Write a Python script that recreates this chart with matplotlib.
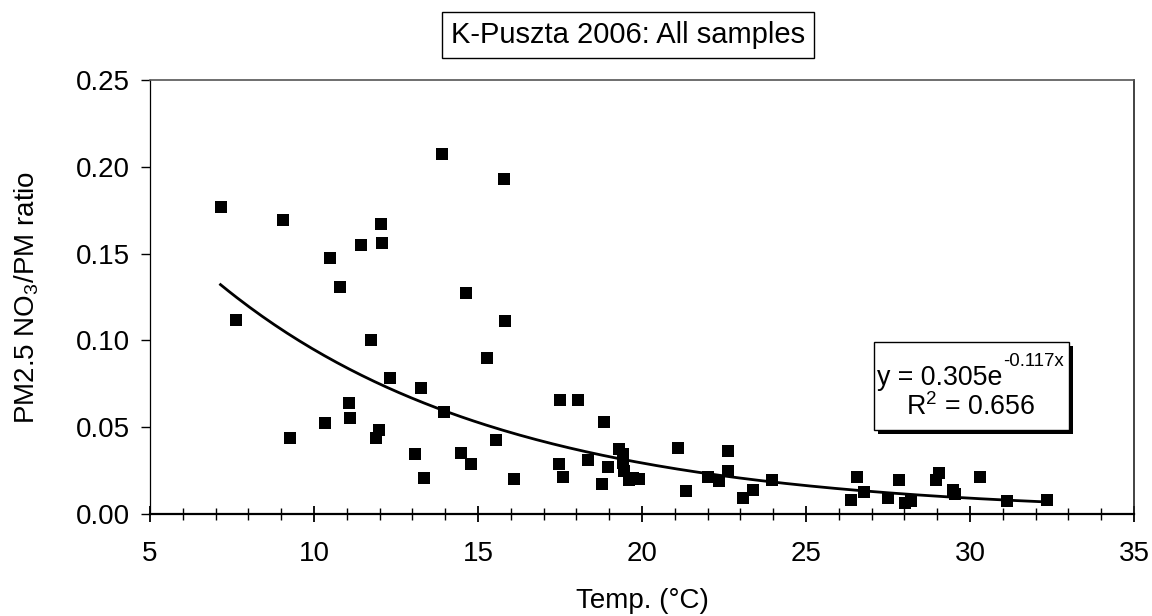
import numpy as np
import matplotlib
matplotlib.use("Agg")
import matplotlib.pyplot as plt
from matplotlib.patches import Rectangle
from matplotlib.ticker import MultipleLocator

plt.rcParams['font.family'] = ['Liberation Sans', 'DejaVu Sans']
plt.rcParams['mathtext.fontset'] = 'custom'
plt.rcParams['mathtext.rm'] = 'Liberation Sans'
plt.rcParams['mathtext.it'] = 'Liberation Sans'

# temperature (°C) and PM2.5 NO3/PM ratio
temp = [7.15, 7.63, 9.07, 9.28, 10.48, 10.80, 10.35, 11.06, 11.09, 11.42,
        11.74, 12.04, 12.08, 11.98, 11.90, 12.33, 13.07, 13.27, 13.35, 13.89,
        13.97, 14.49, 14.62, 14.78, 15.28, 15.55, 15.78, 15.81, 16.10, 17.49,
        18.04, 17.47, 17.58, 18.34, 18.85, 18.96, 18.78, 19.29, 19.41, 19.42,
        19.46, 19.61, 19.73, 19.92, 21.09, 21.35, 22.02, 22.36, 22.62, 22.61,
        23.07, 23.39, 23.97, 26.54, 26.37, 26.76, 27.49, 27.85, 28.03, 28.20,
        28.95, 29.05, 29.49, 29.53, 30.30, 31.12, 32.34]
ratio = [0.1768, 0.1116, 0.1695, 0.0436, 0.1473, 0.1309, 0.0524, 0.0641, 0.0555, 0.1550,
         0.1002, 0.1670, 0.1561, 0.0482, 0.0436, 0.0782, 0.0346, 0.0728, 0.0209, 0.2074,
         0.0586, 0.0350, 0.1271, 0.0286, 0.0900, 0.0428, 0.1930, 0.1114, 0.0202, 0.0655,
         0.0655, 0.0290, 0.0213, 0.0309, 0.0532, 0.0272, 0.0173, 0.0373, 0.0345, 0.0295,
         0.0247, 0.0196, 0.0210, 0.0204, 0.0380, 0.0134, 0.0215, 0.0190, 0.0365, 0.0249,
         0.0092, 0.0138, 0.0198, 0.0215, 0.0081, 0.0125, 0.0094, 0.0196, 0.0065, 0.0077,
         0.0196, 0.0234, 0.0138, 0.0113, 0.0215, 0.0073, 0.0081]

# exponential trendline as printed on the chart
fit_a = 0.305
fit_b = -0.117
fit_r2 = 0.656

W, H = 1152, 616
fig = plt.figure(figsize=(W/100, H/100), dpi=100)
ax = fig.add_axes([150/W, 1 - 514/H, (1134-150)/W, (514-80)/H])

ax.scatter(temp, ratio, marker='s', s=72, color='black', zorder=3, linewidths=0)
xs = np.linspace(min(temp), max(temp), 200)
ax.plot(xs, fit_a*np.exp(fit_b*xs), color='black', lw=2, zorder=2)

ax.set_xlim(5, 35)
ax.set_ylim(0, 0.25)
ax.xaxis.set_major_locator(MultipleLocator(5))
ax.xaxis.set_minor_locator(MultipleLocator(1))
ax.yaxis.set_major_locator(MultipleLocator(0.05))
ax.yaxis.set_major_formatter(lambda v, p: f"{v:.2f}")

ax.tick_params(axis='x', which='major', direction='inout', length=11, width=1.3,
               labelsize=20, pad=14)
ax.tick_params(axis='x', which='minor', direction='inout', length=9, width=1)
ax.tick_params(axis='y', direction='out', length=6.5, width=1, labelsize=20, pad=8)

ax.spines['bottom'].set_linewidth(1.6)
ax.spines['left'].set_linewidth(0.9)
ax.spines['top'].set_color('#555555')
ax.spines['top'].set_linewidth(1.2)
ax.spines['right'].set_color('#222222')
ax.spines['right'].set_linewidth(1.2)

ax.set_xlabel("Temp. (°C)", fontsize=20, va='baseline')
ax.xaxis.set_label_coords(0.5, (514 - 608) / 434)
ax.set_ylabel("PM2.5 NO$_3$/PM ratio", fontsize=20, labelpad=25)

# title in a box
fig.text(628/W, 1 - 35/H, "K-Puszta 2006: All samples", fontsize=21,
         ha='center', va='center',
         bbox=dict(boxstyle='square,pad=0.3', fc='white', ec='black', lw=1))

# equation box with drop shadow
bx0, bx1, by0, by1 = 874, 1069, 342, 430
fig.add_artist(Rectangle(((bx0+4)/W, 1 - (by1+4)/H), (bx1-bx0)/W, (by1-by0)/H,
                         transform=fig.transFigure, fc='black', ec='none', zorder=4))
fig.add_artist(Rectangle((bx0/W, 1 - by1/H), (bx1-bx0)/W, (by1-by0)/H,
                         transform=fig.transFigure, fc='white', ec='black', lw=1, zorder=5))
fig.text(877/W, 1 - 385/H, "y = %.3fe" % fit_a, fontsize=19.3,
         ha='left', va='baseline', zorder=6)
fig.text(1003/W, 1 - 366/H, "%.3fx" % fit_b, fontsize=13.4,
         ha='left', va='baseline', zorder=6)
fig.text(971/W, 1 - 415/H, "R$^2$ = %.3f" % fit_r2, fontsize=19.3,
         ha='center', va='baseline', zorder=6)

fig.savefig("out.png", dpi=100)
